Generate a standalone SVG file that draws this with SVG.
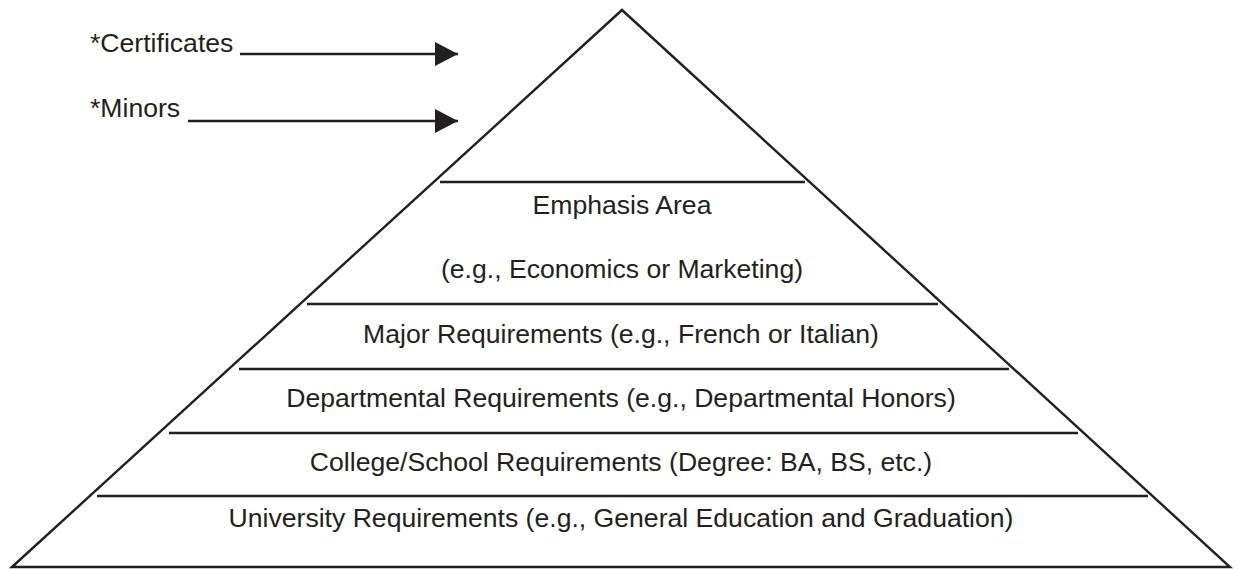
<svg xmlns="http://www.w3.org/2000/svg" width="1240" height="569" viewBox="0 0 1240 569">
<style>
.ln{stroke:#231f20;stroke-width:2.4;fill:none}
.tx{font-family:"Liberation Sans",Arial,sans-serif;font-size:26.6px;fill:#231f20}
.c{text-anchor:middle}
</style>
<defs>
<marker id="ah" markerUnits="userSpaceOnUse" markerWidth="26" markerHeight="26" refX="23" refY="12" orient="auto">
<path d="M0,0 L23,12 L0,24 Z" fill="#231f20"/>
</marker>
</defs>
<rect width="1240" height="569" fill="#fff"/>
<g id="pyramid">
<path class="ln" d="M12,567 L622,10 L1230,567 Z"/>
</g>
<g id="dividers">
<line class="ln" x1="440" y1="182" x2="805" y2="182"/>
<line class="ln" x1="307" y1="304" x2="938" y2="304"/>
<line class="ln" x1="239" y1="369" x2="1009" y2="369"/>
<line class="ln" x1="169" y1="433" x2="1078" y2="433"/>
<line class="ln" x1="97" y1="496" x2="1148" y2="496"/>
</g>
<g id="emphasis"><text class="tx c" x="622" y="214">Emphasis Area</text><text class="tx c" x="622" y="278">(e.g., Economics or Marketing)</text></g>
<g id="major"><text class="tx c" x="621" y="343">Major Requirements (e.g., French or Italian)</text></g>
<g id="departmental"><text class="tx c" x="621" y="407">Departmental Requirements (e.g., Departmental Honors)</text></g>
<g id="college"><text class="tx c" x="621" y="471">College/School Requirements (Degree: BA, BS, etc.)</text></g>
<g id="university"><text class="tx c" x="621" y="527">University Requirements (e.g., General Education and Graduation)</text></g>
<g id="certificates"><text class="tx" x="90" y="52">*Certificates</text></g>
<g id="minors"><text class="tx" x="90" y="117">*Minors</text></g>
<g id="connectors">
<line class="ln" x1="240" y1="54" x2="458" y2="54" marker-end="url(#ah)"/>
<line class="ln" x1="188" y1="121" x2="458" y2="121" marker-end="url(#ah)"/>
</g>
</svg>
